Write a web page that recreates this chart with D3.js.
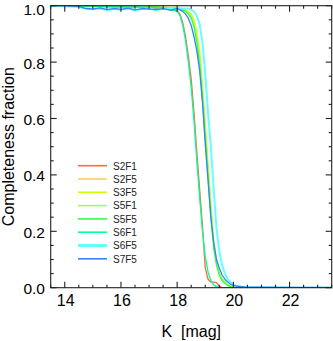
<!DOCTYPE html>
<html>
<head>
<meta charset="utf-8">
<script src="https://cdn.jsdelivr.net/npm/d3@7"></script>
<style>
  html, body { margin: 0; padding: 0; background: #fff; }
  svg { display: block; font-family: 'Liberation Sans', Arial, Helvetica, sans-serif; }
</style>
</head>
<body>
<div id="chart"></div>
<script>
// K magnitudes shared by every field
const mags = [
  13.5, 14.0, 14.5, 14.75, 15.0, 15.25, 15.5, 15.75, 16.0, 16.25, 16.5, 16.75, 17.0, 17.25, 17.5, 17.75,
  18.0, 18.1, 18.2, 18.3, 18.4, 18.5, 18.6, 18.7, 18.8, 18.9, 19.0, 19.1, 19.2, 19.3, 19.4,
  19.5, 19.6, 19.7, 19.8, 19.9, 20.0, 20.1, 20.2, 20.3, 20.4,
  21.0, 22.0, 23.5,
];

const fields = ['S2F1', 'S2F5', 'S3F5', 'S5F1', 'S5F5', 'S6F1', 'S6F5', 'S7F5'];
const colors = ['#ff6a3a', '#ffcc66', '#ccff00', '#99ff66', '#33ff44', '#00ff99', '#66ffff', '#2f86ff'];

const s2f1 = [
  1, 1, 1, 1, 1, 0.998, 0.997, 0.998, 0.996, 0.997, 0.995, 0.997, 0.994, 0.99, 0.992, 0.985,
  0.982, 0.97, 0.94, 0.89, 0.82, 0.74, 0.62, 0.48, 0.35, 0.22, 0.07, 0.03, 0.02, 0.02, 0.018,
  0.005, 0, 0, 0, 0, 0, 0, 0, 0, 0,
  0, 0, 0,
];
const s2f5 = [
  1, 1, 1, 1, 0.998, 1, 0.997, 0.998, 0.996, 0.998, 0.995, 0.997, 0.996, 0.994, 0.995, 0.992,
  0.99, 0.99, 0.985, 0.98, 0.975, 0.962, 0.94, 0.89, 0.82, 0.70, 0.56, 0.42, 0.28, 0.16, 0.09,
  0.05, 0.03, 0.02, 0.01, 0.005, 0, 0, 0, 0, 0,
  0, 0, 0,
];
const s3f5 = [
  1, 1, 1, 0.998, 1, 0.998, 0.997, 0.999, 0.996, 0.998, 0.997, 0.995, 0.997, 0.995, 0.996, 0.993,
  0.995, 0.99, 0.99, 0.985, 0.98, 0.97, 0.95, 0.905, 0.835, 0.72, 0.58, 0.44, 0.30, 0.17, 0.10,
  0.055, 0.032, 0.02, 0.01, 0.005, 0.002, 0, 0, 0, 0,
  0, 0, 0,
];
const s5f1 = [
  1, 1, 1, 1, 0.997, 0.998, 0.998, 0.996, 0.997, 0.995, 0.997, 0.996, 0.994, 0.996, 0.993, 0.992,
  0.99, 0.99, 0.985, 0.98, 0.975, 0.96, 0.935, 0.885, 0.81, 0.69, 0.55, 0.41, 0.27, 0.155, 0.09,
  0.05, 0.03, 0.02, 0.01, 0.004, 0, 0, 0, 0, 0,
  0, 0, 0,
];
const s5f5 = [
  1, 1, 0.998, 1, 0.998, 0.996, 0.998, 0.995, 0.997, 0.994, 0.996, 0.995, 0.993, 0.995, 0.992, 0.99,
  0.99, 0.99, 0.985, 0.98, 0.97, 0.955, 0.925, 0.87, 0.79, 0.67, 0.53, 0.39, 0.25, 0.14, 0.08,
  0.045, 0.025, 0.015, 0.008, 0.003, 0, 0, 0, 0, 0,
  0, 0, 0,
];
const s6f1 = [
  1, 1, 1, 0.998, 1, 0.997, 0.998, 0.996, 0.997, 0.995, 0.997, 0.994, 0.996, 0.993, 0.99, 0.987,
  0.98, 0.965, 0.93, 0.875, 0.80, 0.71, 0.59, 0.45, 0.32, 0.20, 0.11, 0.055, 0.025, 0.01, 0.004,
  0, 0, 0, 0, 0, 0, 0, 0, 0, 0,
  0, 0, 0,
];
const s6f5 = [
  1, 0.998, 0.995, 0.99, 0.987, 0.99, 0.985, 0.989, 0.986, 0.99, 0.984, 0.988, 0.99, 0.985, 0.988, 0.99,
  0.99, 0.99, 0.99, 0.99, 0.99, 0.985, 0.98, 0.965, 0.935, 0.87, 0.76, 0.62, 0.50, 0.35, 0.21,
  0.13, 0.08, 0.05, 0.03, 0.02, 0.01, 0.007, 0.005, 0.003, 0.002,
  0.001, 0, 0,
];
const s7f5 = [
  1, 1, 0.998, 0.99, 0.988, 0.992, 0.986, 0.99, 0.987, 0.991, 0.985, 0.99, 0.988, 0.986, 0.99, 0.984,
  0.99, 0.985, 0.98, 0.97, 0.955, 0.93, 0.89, 0.84, 0.77, 0.66, 0.51, 0.38, 0.25, 0.16, 0.10,
  0.07, 0.045, 0.03, 0.02, 0.012, 0.008, 0.006, 0.005, 0.004, 0.003,
  0.002, 0.001, 0.001,
];
const completeness = [s2f1, s2f5, s3f5, s5f1, s5f5, s6f1, s6f5, s7f5];

const xTicks = [14, 16, 18, 20, 22];
const yTicks = [0.0, 0.2, 0.4, 0.6, 0.8, 1.0];

const W = 333;
const H = 341;
const M = { left: 50.7, right: 1.3, top: 5.7, bottom: 53.3 };

const x = d3.scaleLinear().domain([13.5, 23.5]).range([M.left, W - M.right]);
const y = d3.scaleLinear().domain([0, 1]).range([H - M.bottom, M.top]);

const svg = d3.select('#chart')
  .append('svg')
  .attr('width', W)
  .attr('height', H);

const clip = svg.append('defs').append('clipPath').attr('id', 'plot-clip');
clip.append('rect')
  .attr('x', x(13.5))
  .attr('y', y(1) - 1)
  .attr('width', x(23.5) - x(13.5))
  .attr('height', y(0) - y(1) + 1);

// curves
const line = d3.line()
  .x((d) => x(d[0]))
  .y((d) => y(d[1]));

const gLines = svg.append('g')
  .attr('clip-path', 'url(#plot-clip)')
  .attr('fill', 'none')
  .attr('stroke-linejoin', 'round');

fields.forEach((f, i) => {
  gLines.append('path')
    .attr('d', line(mags.map((m, j) => [m, completeness[i][j]])))
    .attr('stroke', colors[i])
    .attr('stroke-width', f === 'S6F5' ? 2 : 1.3);
});

// frame and ticks (all four sides, pointing in)
const gAxes = svg.append('g').attr('stroke', '#222').attr('stroke-width', 1.1);

gAxes.append('rect')
  .attr('x', x(13.5))
  .attr('y', y(1))
  .attr('width', x(23.5) - x(13.5))
  .attr('height', y(0) - y(1))
  .attr('fill', 'none');

const xMinor = d3.range(13.5, 23.51, 0.5).filter((v) => !xTicks.includes(v));
const yMinor = d3.range(0, 1.001, 0.05).filter((v) => !yTicks.some((t) => Math.abs(t - v) < 1e-6));

const addXTicks = (vals, len) => {
  vals.forEach((v) => {
    gAxes.append('line')
      .attr('x1', x(v)).attr('x2', x(v))
      .attr('y1', y(0)).attr('y2', y(0) - len);
    gAxes.append('line')
      .attr('x1', x(v)).attr('x2', x(v))
      .attr('y1', y(1)).attr('y2', y(1) + len);
  });
};
const addYTicks = (vals, len) => {
  vals.forEach((v) => {
    gAxes.append('line')
      .attr('x1', x(13.5)).attr('x2', x(13.5) + len)
      .attr('y1', y(v)).attr('y2', y(v));
    gAxes.append('line')
      .attr('x1', x(23.5)).attr('x2', x(23.5) - len)
      .attr('y1', y(v)).attr('y2', y(v));
  });
};
addXTicks(xTicks, 6);
addXTicks(xMinor, 3);
addYTicks(yTicks, 6);
addYTicks(yMinor, 3);

// tick labels
svg.append('g')
  .selectAll('text')
  .data(xTicks)
  .join('text')
  .attr('x', (d) => x(d) + 1)
  .attr('y', 306)
  .attr('text-anchor', 'middle')
  .attr('font-size', 16)
  .text((d) => d);

// the top label sits a little lower so it stays inside the picture
svg.append('g')
  .selectAll('text')
  .data(yTicks)
  .join('text')
  .attr('x', 45)
  .attr('y', (d) => Math.max(y(d) + 6.5, 14.5))
  .attr('text-anchor', 'end')
  .attr('font-size', 15.5)
  .text((d) => d3.format('.1f')(d));

// axis titles
svg.append('text')
  .attr('x', (x(13.5) + x(23.5)) / 2)
  .attr('y', 337)
  .attr('text-anchor', 'middle')
  .attr('font-size', 16)
  .attr('xml:space', 'preserve')
  .text('K  [mag]');

svg.append('text')
  .attr('transform', `translate(14,${(y(0) + y(1)) / 2}) rotate(-90)`)
  .attr('text-anchor', 'middle')
  .attr('font-size', 16)
  .text('Completeness fraction');

// legend
const legend = svg.append('g');
fields.forEach((f, i) => {
  const ly = 165.7 + i * 13.3;
  legend.append('line')
    .attr('x1', 78).attr('x2', 107)
    .attr('y1', ly).attr('y2', ly)
    .attr('stroke', colors[i])
    .attr('stroke-width', f === 'S6F5' ? 3 : 1.6);
  legend.append('text')
    .attr('x', 113)
    .attr('y', ly + 3.8)
    .attr('font-size', 10)
    .attr('fill', '#222')
    .text(f);
});
</script>
</body>
</html>
